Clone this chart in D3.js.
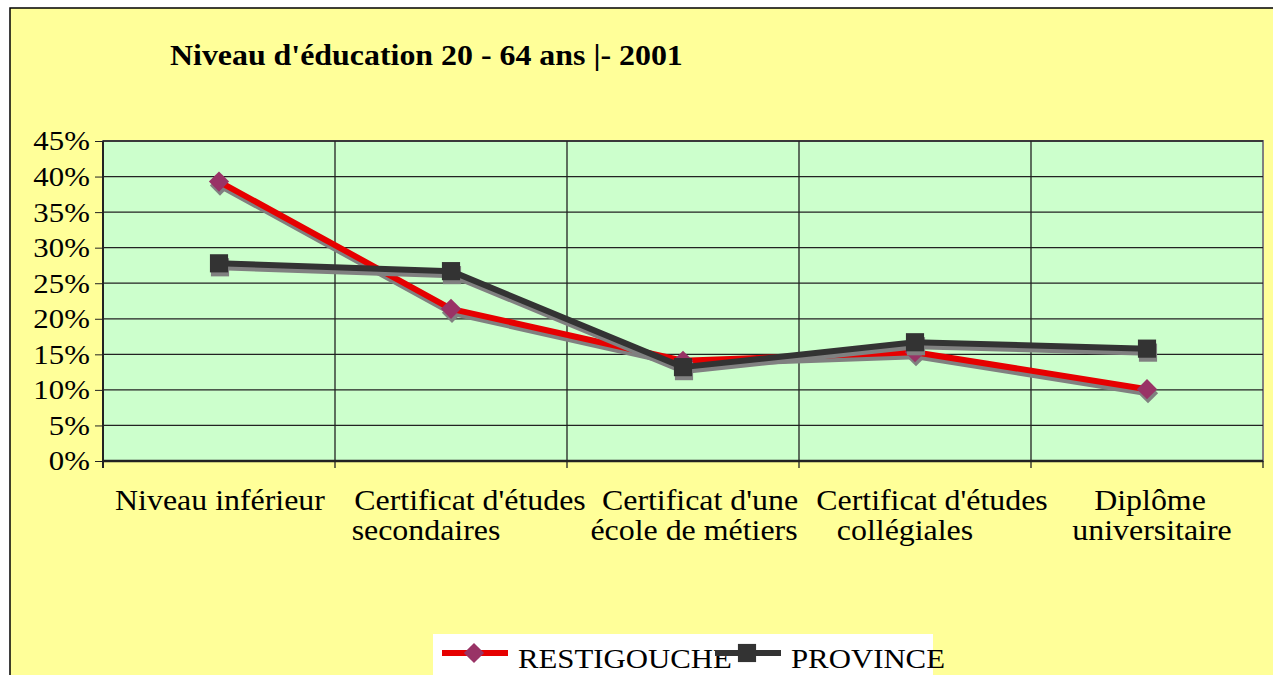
<!DOCTYPE html>
<html>
<head>
<meta charset="utf-8">
<script src="https://cdn.jsdelivr.net/npm/d3@7"></script>
<style>
	body { margin: 0; background: #fff; }
	text { font-family: "Liberation Serif", "Times New Roman", serif; fill: #000; }
</style>
</head>
<body>
<svg id="chart" width="1273" height="675"></svg>
<script>
// categories (each label split on its line break)
var categories = ["Niveau inférieur", "Certificat d'études|secondaires", "Certificat d'une|école de métiers", "Certificat d'études|collégiales", "Diplôme|universitaire"];
// series values, in percent
var restigouche = [39.3, 21.4, 14.1, 15.3, 10.1];
var province = [27.8, 26.7, 13.2, 16.7, 15.8];
var seriesNames = ["RESTIGOUCHE", "PROVINCE"];
var yTicks = [0, 5, 10, 15, 20, 25, 30, 35, 40, 45];
var title = "Niveau d'éducation 20 - 64 ans |- 2001";

function drawChart(){
	var svg = d3.select("#chart"),
	margin = { top: 141, right: 10, bottom: 214, left: 103 },
	width = +svg.attr("width") - margin.left - margin.right,
	height = +svg.attr("height") - margin.top - margin.bottom,
	stretch = "scale(1.1,1)";

	// the old renderer nudged each wrapped label line a bit off centre
	var lineShift = [[1], [19, -25], [17, 11], [17, -10], [3, 5]];

	// yellow chart area
	svg.append("rect").attr("x", 10).attr("y", 8).attr("width", 1270).attr("height", 680)
		.attr("fill", "#ffff99").attr("stroke", "#000").attr("stroke-width", 1.5);

	svg.append("text").attr("transform", "translate(170,65) " + stretch)
		.attr("font-size", 29).attr("font-weight", "bold").text(title);

	var g = svg.append("g").attr("transform", "translate(" + margin.left + "," + margin.top + ")");

	var x = d3.scaleBand().domain(categories).range([0, width]).padding(0);
	var y = d3.scaleLinear().domain([0, 45]).range([height, 0]);
	var cx = function(i){ return x(categories[i]) + x.bandwidth() / 2; };

	g.append("rect").attr("width", width).attr("height", height)
		.attr("fill", "#ccffcc").attr("stroke", "#808080").attr("stroke-width", 2);

	// horizontal grid
	g.selectAll(".hgrid").data(yTicks.slice(1)).enter().append("line")
		.attr("x1", 0).attr("x2", width)
		.attr("y1", function(d){ return y(d); }).attr("y2", function(d){ return y(d); })
		.attr("stroke", "#222").attr("stroke-width", 1.3);

	// vertical grid at category boundaries
	g.selectAll(".vgrid").data(categories.slice(1)).enter().append("line")
		.attr("x1", function(d){ return x(d); }).attr("x2", function(d){ return x(d); })
		.attr("y1", 0).attr("y2", height)
		.attr("stroke", "#222").attr("stroke-width", 1.3);

	// y axis
	var yAxis = g.append("g").call(d3.axisLeft(y).tickValues(yTicks).tickSize(8).tickPadding(4)
		.tickFormat(function(d){ return d + "%"; }));
	yAxis.select(".domain").attr("stroke", "#222").attr("stroke-width", 2).attr("d", "M0," + (height + 7) + "V0");
	yAxis.selectAll("line").attr("stroke", "#222");
	yAxis.selectAll("text").attr("font-family", "Liberation Serif").attr("font-size", 28)
		.attr("transform", stretch).attr("fill", "#000");

	// x axis
	var xAxis = g.append("g").attr("transform", "translate(0," + height + ")");
	xAxis.append("line").attr("x1", 0).attr("x2", width).attr("stroke", "#222").attr("stroke-width", 2.5);
	xAxis.selectAll(".tick").data(categories.concat(["end"])).enter().append("line")
		.attr("x1", function(d, i){ return i * x.bandwidth(); }).attr("x2", function(d, i){ return i * x.bandwidth(); })
		.attr("y1", 0).attr("y2", 7).attr("stroke", "#222").attr("stroke-width", 1.3);

	var labels = xAxis.selectAll(".xlabel").data(categories).enter().append("g")
		.attr("transform", function(d, i){ return "translate(" + cx(i) + ",49)"; });
	labels.each(function(d, k){
		d3.select(this).selectAll("text").data(d.split("|")).enter().append("text")
			.attr("transform", function(t, i){ return "translate(" + lineShift[k][i] + "," + (i * 30) + ") " + stretch; })
			.attr("text-anchor", "middle").attr("font-size", 29).text(function(t){ return t; });
	});

	// series lines
	var series = [
		{ name: seriesNames[0], values: restigouche, line: "#e60000", marker: "#993366", shape: d3.symbolDiamond2 },
		{ name: seriesNames[1], values: province, line: "#333333", marker: "#333333", shape: d3.symbolSquare2 }
	];
	var line = d3.line().x(function(d, i){ return cx(i); }).y(function(d){ return y(d); });
	var shapeSize = { "RESTIGOUCHE": 260, "PROVINCE": 420 };

	series.forEach(function(s){
		var shadow = g.append("g").attr("transform", "translate(1,4)");
		shadow.append("path").datum(s.values).attr("d", line)
			.attr("fill", "none").attr("stroke", "#808080").attr("stroke-width", 6).attr("stroke-linejoin", "round");
		shadow.selectAll("path.m").data(s.values).enter().append("path").attr("class", "m")
			.attr("transform", function(d, i){ return "translate(" + cx(i) + "," + y(d) + ")"; })
			.attr("d", d3.symbol().type(s.shape).size(shapeSize[s.name])).attr("fill", "#808080");

		g.append("path").datum(s.values).attr("d", line)
			.attr("fill", "none").attr("stroke", s.line).attr("stroke-width", 6).attr("stroke-linejoin", "round");
		g.selectAll("path.m" + s.name).data(s.values).enter().append("path").attr("class", "m" + s.name)
			.attr("transform", function(d, i){ return "translate(" + cx(i) + "," + y(d) + ")"; })
			.attr("d", d3.symbol().type(s.shape).size(shapeSize[s.name])).attr("fill", s.marker);
	});

	// legend
	var legend = svg.append("g").attr("transform", "translate(433,634)");
	legend.append("rect").attr("width", 500).attr("height", 45).attr("fill", "#fff");
	var offsets = [9, 282];
	series.forEach(function(s, i){
		var lg = legend.append("g").attr("transform", "translate(" + offsets[i] + ",0)");
		lg.append("line").attr("x1", 0).attr("x2", 66).attr("y1", 19).attr("y2", 19)
			.attr("stroke", s.line).attr("stroke-width", 6);
		lg.append("path").attr("transform", "translate(32,19)")
			.attr("d", d3.symbol().type(s.shape).size(shapeSize[s.name])).attr("fill", s.marker);
		lg.append("text").attr("transform", "translate(76,34) " + stretch)
			.attr("font-size", 28).text(s.name);
	});
}

drawChart();
</script>
</body>
</html>
